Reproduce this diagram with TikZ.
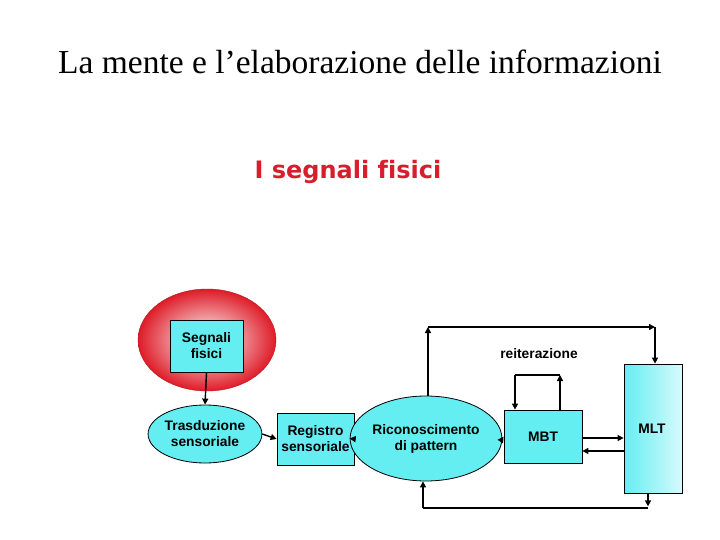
\documentclass[tikz,border=0pt]{standalone}
\usepackage{fontspec}
\setmainfont{Liberation Serif}
\newfontfamily\lsans[Ligatures=NoCommon]{Liberation Sans}
\newfontfamily\dvs[Ligatures=NoCommon]{DejaVu Sans}
\usetikzlibrary{shapes.geometric,arrows.meta}
\definecolor{cy}{RGB}{100,238,242}
\definecolor{cylight}{RGB}{215,250,252}
\definecolor{tred}{RGB}{215,30,45}
\definecolor{ered}{RGB}{222,28,40}
\tikzset{
  lbl/.style={font=\lsans\bfseries\fontsize{13.8}{16}\selectfont, align=center, text=black},
  cybox/.style={lbl, draw=black, line width=0.8pt, fill=cy, inner sep=0pt},
  cyell/.style={lbl, ellipse, draw=black, line width=0.8pt, fill=cy, inner sep=0pt},
  conn/.style={draw=black, line width=1.4pt},
  arr/.style={conn, -{Triangle[length=6pt,width=6pt]}},
}
\begin{document}
\begin{tikzpicture}[x=1pt,y=-1pt]
\useasboundingbox (0,0) rectangle (720,540);
\fill[white] (0,0) rectangle (720,540);
% titles
\node (title) at (360,62) {\fontsize{33.5}{38}\selectfont La mente e l’elaborazione delle informazioni};
\node (sub) at (348,172) {\dvs\bfseries\fontsize{24}{28}\selectfont\color{tred} I segnali fisici};
% red ellipse
\node[ellipse, minimum width=138pt, minimum height=102pt, inner color=white, outer color=ered, draw=ered!80!black, line width=0.4pt] (sig) at (207,340) {};
\node[cybox, minimum width=73pt, minimum height=52pt] (segn) at (206.5,346) {Segnali\\fisici};
% nodes
\node[cyell, minimum width=100pt, minimum height=58pt] (tras) at (205,434) {Trasduzione\\sensoriale};
\node[cybox, minimum width=77pt, minimum height=52pt] (reg) at (315.5,439) {Registro\\sensoriale};
\node[cyell, minimum width=116pt, minimum height=85pt] (ric) at (426,438.5) {Riconoscimento\\di pattern};
\node[cybox, minimum width=78pt, minimum height=53pt] (mbt) at (543,436.5) {MBT};
\node[lbl, draw=black, line width=0.8pt, left color=cy, right color=cylight, minimum width=58pt, minimum height=129pt, inner sep=0pt] (mlt) at (653,428.5) {};
\node[lbl] (mltt) at (652,429) {MLT};
\node[lbl] (reit) at (539,354) {reiterazione};
% coordinates
\coordinate (t1) at (428,327);
\coordinate (t2) at (655,327);
\coordinate (m1) at (560,375);
\coordinate (m2) at (515,375);
\coordinate (b1) at (423,508);
% connectors
\draw[arr] (segn.south) -- (tras.north);
\draw[arr] (tras.east) -- (reg.west);
\draw[arr] (reg.east) -- (ric.west);
\draw[arr] (ric.east) -- (mbt.west);
\draw[arr] (mbt.east |- 0,438) -- (mlt.west |- 0,438);
\draw[arr] (mlt.west |- 0,451) -- (mbt.east |- 0,451);
\draw[arr] (ric.north -| t1) -- (t1);
\draw[arr] (t1) -- (t2);
\draw[arr] (t2) -- (mlt.north -| t2);
\draw[arr] (mbt.north -| m1) -- (m1);
\draw[conn] (m1) -- (m2);
\draw[arr] (m2) -- (mbt.north -| m2);
\draw[arr] (mlt.south -| 648,0) -- ++(0,13);
\draw[conn] (648,508) -- (b1);
\draw[arr] (b1) -- (ric.south -| b1);
\end{tikzpicture}
\end{document}
